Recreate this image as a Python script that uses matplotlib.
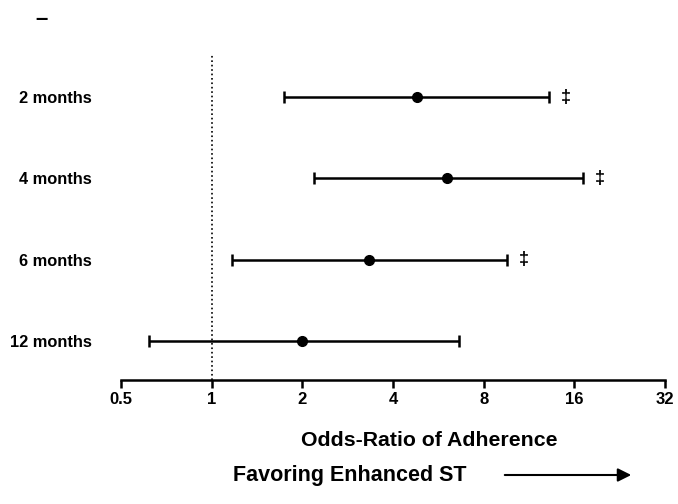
import matplotlib
matplotlib.use('Agg')
import matplotlib.pyplot as plt

plt.rcParams['font.family'] = ['Liberation Sans', 'DejaVu Sans']
plt.rcParams['font.weight'] = 'bold'

# data
labels = ['2 months', '4 months', '6 months', '12 months']
odds = [4.8, 6.05, 3.33, 2.0]
lower = [1.74, 2.19, 1.17, 0.62]
upper = [13.2, 17.1, 9.55, 6.6]
significant = [True, True, True, False]
xticks = [0.5, 1, 2, 4, 8, 16, 32]
xticklabels = ['0.5', '1', '2', '4', '8', '16', '32']

fig = plt.figure(figsize=(6.78, 5.04), dpi=100)
ax = fig.add_axes([121 / 678, 1 - 380 / 504, 544 / 678, 325 / 504])

ypos = list(range(len(labels), 0, -1))
err = [[o - l for o, l in zip(odds, lower)], [u - o for o, u in zip(odds, upper)]]
ax.errorbar(odds, ypos, xerr=err, fmt='o', color='black', ms=7, lw=1.8,
            capsize=4, capthick=1.8, zorder=3)
ax.axvline(1, color='black', ls=':', lw=1.2, zorder=1)

for y, u, s in zip(ypos, upper, significant):
    if s:
        ax.annotate('\u2021', (u, y), xytext=(12, 0), textcoords='offset points',
                    ha='center', va='center', fontsize=13)

# appearance
ax.set_xscale('log', base=2)
ax.set_xlim(0.5, 32)
ax.set_ylim(0.52, 4.52)
ax.set_xticks(xticks)
ax.set_xticklabels(xticklabels, fontsize=12, fontweight='bold')
ax.minorticks_off()
ax.set_yticks(ypos)
ax.set_yticklabels(labels, fontsize=11.8, fontweight='bold')
ax.tick_params(axis='y', length=0, pad=21)
ax.tick_params(axis='x', direction='out', length=6, width=1.8, pad=3)
for side in ['left', 'top', 'right']:
    ax.spines[side].set_visible(False)
ax.spines['bottom'].set_linewidth(1.8)

# text info
fig.text(429 / 678, 1 - 440 / 504, 'Odds-Ratio of Adherence', ha='center', va='center',
         fontsize=15.3, fontweight='bold')
fig.text(233 / 678, 1 - 475 / 504, 'Favoring Enhanced ST', ha='left', va='center',
         fontsize=15.5, fontweight='bold')
fig.text(41 / 678, 1 - 20 / 504, '\u2013', ha='center', va='center', fontsize=16, fontweight='bold')
ax.annotate('', xy=(634 / 678, 1 - 475 / 504), xytext=(502 / 678, 1 - 475 / 504),
            xycoords='figure fraction', textcoords='figure fraction',
            arrowprops=dict(arrowstyle='-|>', color='black', lw=1.5, mutation_scale=20))

fig.savefig('out.png', dpi=100)
